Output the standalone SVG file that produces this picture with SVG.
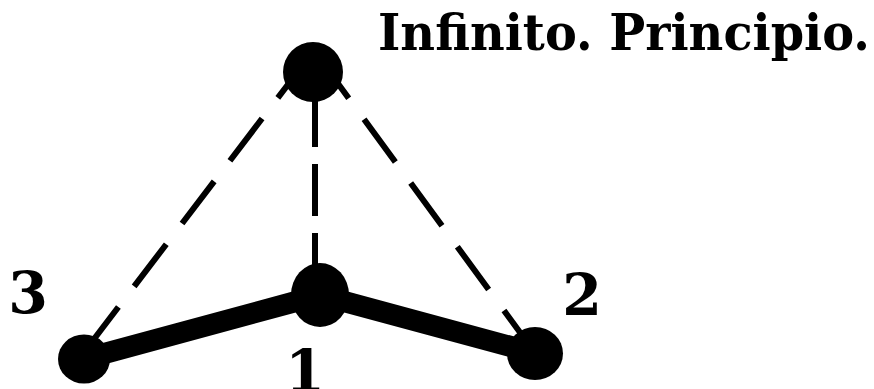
<svg xmlns="http://www.w3.org/2000/svg" width="874" height="389" viewBox="0 0 874 389">
<style>
.dash{stroke:#000;stroke-width:6;fill:none;stroke-linecap:butt}
.thick{stroke:#000;stroke-width:21;fill:none;stroke-linecap:round}
.node{fill:#000}
.lbl{font-family:"DejaVu Serif","Liberation Serif",serif;font-weight:bold;fill:#000}
</style>
<rect width="874" height="389" fill="#fff"/>
<g id="connectors">
<line class="dash" x1="296" y1="74" x2="91" y2="343" stroke-dasharray="53 26" stroke-dashoffset="23"/>
<line class="dash" x1="331" y1="74" x2="527" y2="342" stroke-dasharray="53 26" stroke-dashoffset="23"/>
<line class="dash" x1="315" y1="95" x2="315" y2="292" stroke-dasharray="52 17"/>
<line class="thick" x1="84" y1="359" x2="320" y2="295"/>
<line class="thick" x1="320" y1="295" x2="535" y2="353"/>
</g>
<g id="node-top"><circle class="node" cx="313" cy="72" r="30"/></g>
<g id="node-1"><ellipse class="node" cx="320" cy="295" rx="29" ry="32"/>
<text class="lbl" x="305" y="391" font-size="57" text-anchor="middle">1</text></g>
<g id="node-3"><ellipse class="node" cx="84" cy="359" rx="26" ry="24.5"/>
<text class="lbl" x="28" y="313" font-size="57" text-anchor="middle">3</text></g>
<g id="node-2"><ellipse class="node" cx="535" cy="353.5" rx="28" ry="26.5"/>
<text class="lbl" x="582" y="315" font-size="57" text-anchor="middle">2</text></g>
<g id="title"><text class="lbl" x="378" y="50" font-size="50" textLength="492" lengthAdjust="spacingAndGlyphs">Infinito. Principio.</text></g>
</svg>
